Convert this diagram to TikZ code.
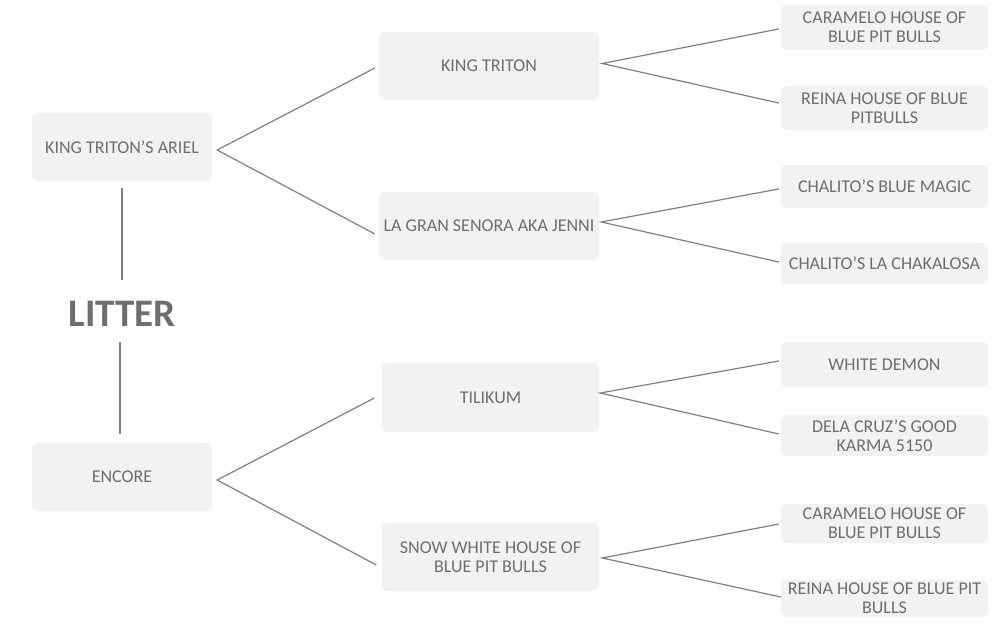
\documentclass[tikz,border=0pt]{standalone}
\usepackage{fontspec}
\setmainfont{Carlito}
\definecolor{boxfill}{HTML}{F2F2F2}
\definecolor{txt}{HTML}{6E6E6E}
\definecolor{ln}{HTML}{7F7F7F}
\begin{document}
\begin{tikzpicture}[x=1pt,y=-1pt,
  pbox/.style={fill=boxfill, rounded corners=6pt, align=center, inner sep=0pt,
    text=txt, font=\fontsize{18}{19}\selectfont},
  conn/.style={draw=ln, line width=1.2pt}]
\useasboundingbox (0,0) rectangle (997,626);
% left column
\node[pbox, minimum width=180pt, minimum height=68pt] (ariel) at (122,147) {KING TRITON’S ARIEL};
\node[pbox, minimum width=180pt, minimum height=68pt] (encore) at (122,477) {ENCORE};
\node[text=txt, font=\fontsize{39}{42}\bfseries\selectfont, inner sep=0pt] (litter) at (122,314) {LITTER};
% middle column
\node[pbox, minimum width=220pt, minimum height=68pt] (kt) at (489,66) {KING TRITON};
\node[pbox, minimum width=220pt, minimum height=68pt] (lgs) at (489,226) {LA GRAN SENORA AKA JENNI};
\node[pbox, minimum width=217pt, minimum height=69pt] (til) at (490.5,397.5) {TILIKUM};
\node[pbox, minimum width=217pt, minimum height=68pt] (snow) at (490.5,557) {SNOW WHITE HOUSE OF\\BLUE PIT BULLS};
% right column
\node[pbox, minimum width=207pt, minimum height=45pt] (c1) at (884.5,27.5) {CARAMELO HOUSE OF\\BLUE PIT BULLS};
\node[pbox, minimum width=207pt, minimum height=44pt] (r1) at (884.5,108) {REINA HOUSE OF BLUE\\PITBULLS};
\node[pbox, minimum width=207pt, minimum height=43pt] (magic) at (884.5,186.5) {CHALITO’S BLUE MAGIC};
\node[pbox, minimum width=207pt, minimum height=41pt] (chak) at (884.5,263.5) {CHALITO’S LA CHAKALOSA};
\node[pbox, minimum width=207pt, minimum height=45pt] (demon) at (884.5,364.5) {WHITE DEMON};
\node[pbox, minimum width=207pt, minimum height=41pt] (dela) at (884.5,435.5) {DELA CRUZ’S GOOD\\KARMA 5150};
\node[pbox, minimum width=207pt, minimum height=39pt] (c2) at (884.5,523.5) {CARAMELO HOUSE OF\\BLUE PIT BULLS};
\node[pbox, minimum width=207pt, minimum height=37pt] (r2) at (884.5,598.5) {REINA HOUSE OF BLUE PIT\\BULLS};
% vertical connectors
\draw[conn] ([yshift=-7pt]ariel.south) -- ([yshift=-99pt]ariel.south);
\draw[conn] ([xshift=-2pt,yshift=9pt]encore.north) -- ([xshift=-2pt,yshift=101pt]encore.north);
% left forks
\draw[conn] ([xshift=-4pt,yshift=-2pt]kt.west) -- ([xshift=5pt,yshift=-3pt]ariel.east) -- ([xshift=-4pt,yshift=-8pt]lgs.west);
\draw[conn] ([xshift=-7.5pt,yshift=-0.5pt]til.west) -- ([xshift=5pt,yshift=-3pt]encore.east) -- ([xshift=-5.5pt,yshift=-8pt]snow.west);
% right forks
\draw[conn] ([xshift=-2pt,yshift=-1.5pt]c1.west) -- ([xshift=3pt,yshift=2.5pt]kt.east) -- ([xshift=-2pt,yshift=5pt]r1.west);
\draw[conn] ([xshift=-2pt,yshift=-2.5pt]magic.west) -- ([xshift=2pt,yshift=4pt]lgs.east) -- ([xshift=-2pt,yshift=1.5pt]chak.west);
\draw[conn] ([xshift=-2pt,yshift=3.5pt]demon.west) -- ([xshift=1pt,yshift=4.5pt]til.east) -- ([xshift=-2pt,yshift=1.5pt]dela.west);
\draw[conn] ([xshift=-2pt,yshift=-0.5pt]c2.west) -- ([xshift=3pt,yshift=-1pt]snow.east) -- ([xshift=0pt,yshift=1.5pt]r2.west);
\end{tikzpicture}
\end{document}
